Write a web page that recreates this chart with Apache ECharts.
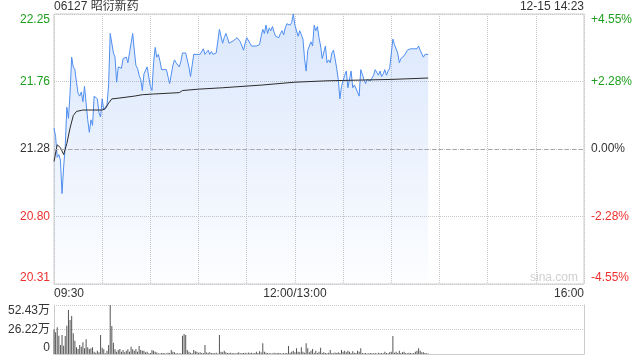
<!DOCTYPE html>
<html>
<head>
<meta charset="utf-8">
<script src="https://cdn.jsdelivr.net/npm/echarts@6/dist/echarts.min.js"></script>
<style>
html,body{margin:0;padding:0;background:#fff;}
#c{width:640px;height:360px;}
</style>
</head>
<body>
<div id="c"></div>
<script>
// ---------- data ----------
const stockTitle = '06127 昭衍新药';
const stampText = '12-15 14:23';
const prevClose = 21.28;

// minute index from 09:30 (0) ... 12:00=13:00 (150) ... 16:00 (330)
const priceMinutes = [0,1,2,3,4,5,6,7,8,9,10,11,12,13,14,15,16,17,18,19,20,21,22,23,24,25,26,27,28,29,30,31,32,33,34,35,36,37,38,39,40,41,42,43,44,45,46,47,48,49,50,51,52,53,54,55,56,58,59,60,61,62,63,64,65,66,67,68,70,71,72,74,75,76,77,78,79,80,82,83,84,85,86,87,89,91,92,93,94,95,96,97,98,99,100,101,102,103,104,105,106,107,108,109,110,112,113,114,115,116,117,118,119,120,121,122,123,124,126,128,129,130,131,132,133,134,135,136,137,138,139,140,141,142,143,144,145,146,147,148,149,150,151,152,153,154,155,156,157,158,159,160,161,162,163,164,165,166,167,168,169,170,171,172,173,174,175,176,177,178,179,180,181,182,183,184,185,186,187,188,189,190,191,192,193,194,195,196,197,198,199,200,201,202,203,204,205,206,207,208,209,210,211,212,213,214,215,216,217,218,219,220,221,222,224,225,226,227,228,229,230,231,232,233];
const prices = [21.43,21.37,21.22,21.24,21.20,20.96,21.15,21.30,21.58,21.50,21.68,21.94,21.87,21.85,21.76,21.68,21.66,21.69,21.62,21.73,21.61,21.49,21.40,21.49,21.45,21.66,21.65,21.64,21.54,21.51,21.64,21.56,21.56,21.60,21.74,22.11,22.12,21.97,21.94,21.76,21.87,21.86,21.86,21.93,21.92,21.94,21.90,21.97,22.04,22.11,21.99,21.88,21.86,21.81,21.78,21.70,21.82,21.87,21.87,21.73,21.70,21.90,22.01,21.94,21.96,21.91,21.85,21.86,21.85,21.80,21.75,21.88,21.92,21.90,21.91,21.87,21.91,21.97,21.97,21.97,21.87,21.80,21.80,21.96,21.96,21.96,21.97,22.00,21.96,21.97,21.99,21.96,21.98,21.96,21.97,21.97,21.96,22.14,22.09,22.04,22.08,22.11,22.08,22.04,22.04,22.06,22.07,22.08,22.07,22.05,22.04,21.99,22.04,22.08,22.08,22.04,22.02,22.02,22.02,22.03,22.09,22.14,22.11,22.17,22.11,22.15,22.13,22.16,22.12,22.09,22.08,22.08,22.11,22.13,22.10,22.15,22.18,22.19,22.17,22.19,22.25,22.17,22.18,22.09,22.13,22.10,22.07,21.93,21.84,21.99,22.00,22.05,22.02,22.17,22.13,22.16,22.08,22.02,21.93,21.94,22.02,21.90,21.92,21.90,21.97,21.99,21.93,21.86,21.78,21.64,21.73,21.74,21.81,21.84,21.72,21.73,21.84,21.72,21.74,21.74,21.69,21.66,21.85,21.85,21.78,21.75,21.78,21.79,21.77,21.78,21.81,21.85,21.85,21.81,21.84,21.80,21.82,21.85,21.81,21.84,21.86,21.86,22.07,22.03,22.02,21.97,21.90,21.93,21.92,21.95,21.97,21.99,21.99,22.00,22.00,22.00,22.00,22.02,21.99,21.99,21.94,21.96,21.96,21.96];

const avgMinutes = [0,2,4,6,8,10,12,14,18,30,32,34,36,40,50,55,62,78,80,90,105,130,150,170,210,233];
const avgPrices  = [21.19,21.31,21.29,21.24,21.32,21.43,21.52,21.55,21.56,21.56,21.57,21.61,21.64,21.645,21.66,21.67,21.675,21.685,21.70,21.71,21.72,21.74,21.76,21.77,21.78,21.79];

// volume per minute (unit: 万股), index = minute
const volumes = [26.4,23.2,28.5,19.6,9.6,20.3,8.9,19.3,30.3,47.1,36.4,40.7,22.1,14.3,7.1,5.4,9.6,7.8,12.5,6.1,15.7,7.1,5.4,6.1,7.1,2.5,1.4,3.6,2.0,20.3,6.8,5.0,0.7,3.6,9.6,52.43,30.0,12.1,5.0,2.5,4.3,5.4,2.5,4.3,1.8,3.6,5.0,2.5,7.8,5.0,3.6,5.4,2.5,8.6,4.3,3.6,3.6,1.8,2.5,0.7,1.2,4.3,3.6,2.5,1.5,0.9,0.6,1.0,1.2,0.8,0.6,1.4,1.0,4.3,2.5,1.8,0.7,0.9,0.6,0.8,19.6,21.4,20.3,4.3,2.5,1.4,0.9,4.3,3.0,2.5,1.4,1.8,1.2,1.0,9.6,1.5,1.4,1.8,1.2,1.0,0.7,1.4,0.6,20.3,2.5,1.8,3.6,1.8,1.2,1.0,1.4,0.9,1.2,0.6,1.0,1.8,0.8,1.2,1.0,1.4,0.8,1.6,1.0,1.4,0.7,1.0,2.5,1.2,3.0,1.5,11.4,2.5,1.4,1.0,0.7,0.9,0.6,1.4,0.7,1.0,1.2,0.8,0.6,1.2,0.9,1.0,8.6,1.4,2.5,3.6,1.8,6.1,2.5,1.8,7.1,2.5,1.4,11.4,6.1,1.8,3.6,5.4,1.4,3.6,1.2,2.5,6.8,1.0,2.0,1.2,0.9,1.4,4.3,1.0,0.8,1.5,1.0,1.8,1.2,4.3,2.5,3.6,1.8,3.6,2.5,1.2,3.0,1.4,1.0,3.6,2.5,6.1,1.0,0.8,1.0,0.6,0.8,1.2,0.7,0.9,1.0,0.6,1.4,0.8,1.0,0.7,2.5,1.0,0.8,1.8,2.5,19.3,1.4,2.5,1.2,3.6,1.0,1.8,2.5,1.2,0.8,1.4,1.0,0.8,1.2,2.5,3.6,6.1,3.6,2.0,1.8,1.0,0.8,0.5];

const timeTickMinutes = [0, 150, 330];
const timeTickLabels = ['09:30', '12:00/13:00', '16:00'];
const priceTickLabels = ['20.31', '20.80', '21.28', '21.76', '22.25'];
const pctTickLabels = ['-4.55%', '-2.28%', '0.00%', '+2.28%', '+4.55%'];
const volTickLabels = ['0', '26.22万', '52.43万'];

// ---------- chart ----------
const FONT = '"Liberation Sans", Arial, "Noto Sans CJK SC", sans-serif';
const GREEN = '#1f9f1f', RED = '#ee3030', DARK = '#333';
const toPct = p => (p / prevClose - 1) * 100;
let maxDev = 0;
prices.forEach(p => { maxDev = Math.max(maxDev, Math.abs(toPct(p))); });
const pctInterval = maxDev / 2;
const volMax = Math.max.apply(null, volumes);
const tickIdx = v => Math.round((v + maxDev) / pctInterval);
const styleKey = i => (i > 2 ? 'g' : (i < 2 ? 'r' : 'n'));
const rich = {
  g: { color: GREEN, fontSize: 12, fontFamily: FONT },
  r: { color: RED, fontSize: 12, fontFamily: FONT },
  n: { color: DARK, fontSize: 12, fontFamily: FONT }
};

const chart = echarts.init(document.getElementById('c'), null, { renderer: 'canvas' });
chart.setOption({
  animation: false,
  textStyle: { fontFamily: FONT },
  title: [
    { text: stockTitle, left: 54, top: 1, padding: 0,
      textStyle: { fontSize: 12, fontWeight: 'normal', color: DARK, fontFamily: FONT } },
    { text: stampText, right: 56, top: 1, padding: 0,
      textStyle: { fontSize: 12, fontWeight: 'normal', color: DARK, fontFamily: FONT } }
  ],
  graphic: [
    { type: 'text', right: 62, top: 272, silent: true,
      style: { text: 'sina.com', fill: '#d0d0d0', fontSize: 12, fontFamily: FONT } }
  ],
  grid: [
    { left: 54, top: 14, width: 530, height: 270, show: true, borderColor: '#cccccc', borderWidth: 1, backgroundColor: 'transparent' },
    { left: 54, top: 305, width: 530, height: 49 }
  ],
  xAxis: [
    { gridIndex: 0, type: 'value', min: 0, max: 330, interval: 30,
      axisLine: { show: false }, axisTick: { show: false },
      splitLine: { show: true, lineStyle: { type: 'dotted', color: '#c8c8c8', width: 1 } },
      axisLabel: { show: true, margin: 4, fontSize: 12, color: DARK, fontFamily: FONT,
        alignMinLabel: 'left', alignMaxLabel: 'right', showMinLabel: true, showMaxLabel: true, hideOverlap: false,
        formatter: v => { const k = timeTickMinutes.indexOf(Math.round(v)); return k >= 0 ? timeTickLabels[k] : ''; } } },
    { gridIndex: 1, type: 'value', min: 0, max: 330, interval: 30,
      axisLine: { show: true, lineStyle: { color: '#cccccc' } }, axisTick: { show: false },
      splitLine: { show: false }, axisLabel: { show: false } }
  ],
  yAxis: [
    { gridIndex: 0, type: 'value', position: 'left', min: -maxDev, max: maxDev, interval: pctInterval,
      axisLine: { show: false }, axisTick: { show: false },
      splitLine: { show: true, lineStyle: { type: 'dotted', color: '#c8c8c8', width: 1 } },
      axisLabel: { margin: 4, fontSize: 12, fontFamily: FONT,
        verticalAlignMinLabel: 'bottom', verticalAlignMaxLabel: 'top',
        formatter: v => { const i = tickIdx(v); return '{' + styleKey(i) + '|' + priceTickLabels[i] + '}'; },
        rich: rich } },
    { gridIndex: 0, type: 'value', position: 'right', min: -maxDev, max: maxDev, interval: pctInterval,
      axisLine: { show: false }, axisTick: { show: false }, splitLine: { show: false },
      axisLabel: { margin: 7, fontSize: 12, fontFamily: FONT,
        verticalAlignMinLabel: 'bottom', verticalAlignMaxLabel: 'top',
        formatter: v => { const i = tickIdx(v); return '{' + styleKey(i) + '|' + pctTickLabels[i] + '}'; },
        rich: rich } },
    { gridIndex: 1, type: 'value', position: 'left', min: 0, max: volMax, interval: volMax / 2,
      axisLine: { show: true, lineStyle: { color: '#cccccc' } }, axisTick: { show: false },
      splitLine: { show: true, lineStyle: { type: 'dotted', color: '#c8c8c8', width: 1 } },
      axisLabel: { margin: 4, fontSize: 12, color: DARK, fontFamily: FONT,
        verticalAlignMinLabel: 'bottom', verticalAlignMaxLabel: 'top',
        formatter: v => volTickLabels[Math.round(v / (volMax / 2))] } },
    { gridIndex: 1, type: 'value', position: 'right', min: 0, max: volMax,
      axisLine: { show: true, lineStyle: { color: '#cccccc' } }, axisTick: { show: false },
      splitLine: { show: false }, axisLabel: { show: false } }
  ],
  series: [
    { name: 'price', type: 'line', xAxisIndex: 0, yAxisIndex: 0,
      data: priceMinutes.map((m, i) => [m, toPct(prices[i])]),
      showSymbol: false, symbol: 'none', smooth: false,
      lineStyle: { color: '#4f8ef0', width: 1 },
      areaStyle: { origin: 'start',
        color: new echarts.graphic.LinearGradient(0, 0, 0, 1, [
          { offset: 0, color: 'rgba(80,140,240,0.30)' },
          { offset: 1, color: 'rgba(80,140,240,0.02)' }
        ]) },
      markLine: { silent: true, symbol: 'none', label: { show: false },
        lineStyle: { type: [4, 3], color: '#a8a8a8', width: 1 },
        data: [{ yAxis: 0 }] },
      z: 3 },
    { name: 'avg', type: 'line', xAxisIndex: 0, yAxisIndex: 0,
      data: avgMinutes.map((m, i) => [m, toPct(avgPrices[i])]),
      showSymbol: false, symbol: 'none',
      lineStyle: { color: '#2b2b2b', width: 1 }, z: 4 },
    { name: 'vol', type: 'bar', xAxisIndex: 1, yAxisIndex: 2,
      data: volumes.map((v, i) => [i, v]),
      barWidth: 1, itemStyle: { color: '#555555' } }
  ]
});
</script>
</body>
</html>
